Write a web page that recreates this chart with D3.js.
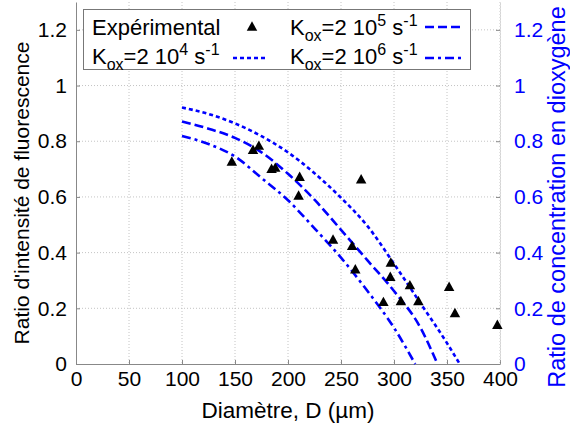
<!DOCTYPE html>
<html>
<head>
<meta charset="utf-8">
<script src="https://cdn.jsdelivr.net/npm/d3@7"></script>
<style>
  html, body { margin: 0; padding: 0; background: #fff; }
  svg { display: block; font-family: "Liberation Sans", Arial, Helvetica, sans-serif; }
</style>
</head>
<body>
<svg id="chart" width="570" height="426"></svg>
<script>
// Measured fluorescence intensity ratio versus spheroid diameter
const expDiameter = [147, 167, 172.5, 184.5, 188, 211, 210, 269, 242.5, 260.5, 263.5, 297, 296.5, 315, 290, 306.5, 323, 352, 357.5, 397.5];
const expRatio    = [0.729, 0.771, 0.786, 0.703, 0.707, 0.674, 0.607, 0.665, 0.449, 0.426, 0.342, 0.366, 0.315, 0.285, 0.225, 0.228, 0.228, 0.279, 0.185, 0.143];

// Modelled oxygen concentration ratio for three consumption constants
const diamK4  = [100, 125, 150, 175, 200, 225, 250, 275, 300, 325, 350, 362];
const ratioK4 = [0.921, 0.898, 0.864, 0.818, 0.760, 0.685, 0.597, 0.495, 0.360, 0.218, 0.075, 0];
const diamK5  = [100, 125, 150, 175, 200, 225, 250, 275, 300, 325, 341];
const ratioK5 = [0.871, 0.845, 0.812, 0.760, 0.683, 0.590, 0.482, 0.372, 0.262, 0.130, 0];
const diamK6  = [100, 125, 150, 175, 200, 225, 250, 275, 300, 320];
const ratioK6 = [0.819, 0.790, 0.745, 0.668, 0.588, 0.487, 0.382, 0.262, 0.130, 0];

const xTicks = [0, 50, 100, 150, 200, 250, 300, 350, 400];
const yTicks = [0, 0.2, 0.4, 0.6, 0.8, 1, 1.2];

const blue = "#0000ff";
const tickFont = 21, legendFont = 22, scriptFont = 16;

const svg = d3.select("#chart");
const plotLeft = 76, plotRight = 500, plotTop = 2, plotBottom = 364;

const x = d3.scaleLinear().domain([0, 400]).range([plotLeft, plotRight]);
const y = d3.scaleLinear().domain([0, 1.3]).range([plotBottom, plotTop]);
const y2 = d3.scaleLinear().domain([0, 1.3]).range([plotBottom, plotTop]);

// dotted grid
const grid = svg.append("g").attr("stroke", "#c4c4c4").attr("stroke-width", 1).attr("stroke-dasharray", "1,2");
grid.selectAll("line.gx").data(xTicks.filter(d => d > 0)).join("line")
  .attr("class", "gx")
  .attr("x1", d => x(d)).attr("x2", d => x(d)).attr("y1", plotTop).attr("y2", plotBottom);
grid.selectAll("line.gy").data(yTicks.filter(d => d > 0)).join("line")
  .attr("class", "gy")
  .attr("x1", plotLeft).attr("x2", plotRight).attr("y1", d => y(d)).attr("y2", d => y(d));

// axes
const fmt = d => d3.format("~g")(d);
const gx = svg.append("g").attr("transform", `translate(0,${plotBottom})`)
  .call(d3.axisBottom(x).tickValues(xTicks).tickFormat(fmt).tickSize(-4).tickPadding(7).tickSizeOuter(0));
const gy = svg.append("g").attr("transform", `translate(${plotLeft},0)`)
  .call(d3.axisLeft(y).tickValues(yTicks).tickFormat(fmt).tickSize(-4).tickPadding(9).tickSizeOuter(0));
const gy2 = svg.append("g").attr("transform", `translate(${plotRight},0)`)
  .call(d3.axisRight(y2).tickValues(yTicks).tickFormat(fmt).tickSize(-4).tickPadding(14).tickSizeOuter(0));

[gx, gy, gy2].forEach(g => {
  g.selectAll("text").attr("font-size", tickFont).attr("font-family", "Liberation Sans, Arial, sans-serif");
  g.selectAll("line").attr("stroke", "#888");
  g.select(".domain").attr("stroke", "#888");
});
gx.selectAll("text").attr("fill", "#000");
gy.selectAll("text").attr("fill", "#000");
gy2.selectAll("text").attr("fill", blue);
gy2.select(".domain").attr("stroke", "#aaa").attr("stroke-dasharray", "1,2");

// model curves
const curves = [
  { d: diamK4, r: ratioK4, dash: "4,3" },
  { d: diamK5, r: ratioK5, dash: "9,4" },
  { d: diamK6, r: ratioK6, dash: "9,4,3,4" }
];
const line = d3.line().x(p => x(p[0])).y(p => y2(p[1])).curve(d3.curveMonotoneX);
svg.append("g").selectAll("path").data(curves).join("path")
  .attr("d", c => line(c.d.map((v, i) => [v, c.r[i]])))
  .attr("fill", "none").attr("stroke", blue).attr("stroke-width", 2.6)
  .attr("stroke-dasharray", c => c.dash);

// upward triangle marker centred on its bounding box
const triangle = {
  draw(ctx, size) {
    const w = Math.sqrt(size), h = w * 0.9;
    ctx.moveTo(0, -h / 2);
    ctx.lineTo(w / 2, h / 2);
    ctx.lineTo(-w / 2, h / 2);
    ctx.closePath();
  }
};
const tri = d3.symbol().type(triangle).size(110);

svg.append("g").selectAll("path").data(expDiameter.map((v, i) => [v, expRatio[i]])).join("path")
  .attr("d", tri)
  .attr("transform", p => `translate(${x(p[0])},${y(p[1])})`)
  .attr("fill", "#000");

// axis titles
svg.append("text")
  .attr("transform", `translate(29,${(plotTop + plotBottom) / 2 + 10}) rotate(-90)`)
  .attr("text-anchor", "middle").attr("font-size", 21).attr("fill", "#000")
  .text("Ratio d'intensité de fluorescence");
svg.append("text")
  .attr("transform", `translate(565,${(plotTop + plotBottom) / 2 + 14}) rotate(-90)`)
  .attr("text-anchor", "middle").attr("font-size", 23.5).attr("fill", blue)
  .text("Ratio de concentration en dioxygène");
svg.append("text")
  .attr("x", (plotLeft + plotRight) / 2).attr("y", 418)
  .attr("text-anchor", "middle").attr("font-size", 22.5).attr("fill", "#000")
  .text("Diamètre, D (µm)");

// legend
const lg = svg.append("g");
lg.append("rect").attr("x", 83.5).attr("y", 9.5).attr("width", 387).attr("height", 60)
  .attr("fill", "#fff").attr("stroke", "#777").attr("stroke-width", 1);

function koxLabel(g, xPos, yPos, exp) {
  const t = g.append("text").attr("x", xPos).attr("y", yPos).attr("font-size", legendFont).attr("fill", "#000");
  t.append("tspan").text("K");
  t.append("tspan").attr("font-size", scriptFont).attr("dy", 6).text("ox");
  t.append("tspan").attr("dy", -6).text("=2 10");
  t.append("tspan").attr("font-size", scriptFont).attr("dy", -9).text(exp);
  t.append("tspan").attr("dy", 9).text(" s");
  t.append("tspan").attr("font-size", scriptFont).attr("dy", -9).text("-1");
}

lg.append("text").attr("x", 92).attr("y", 35).attr("font-size", legendFont).attr("fill", "#000").text("Expérimental");
lg.append("path").attr("d", tri).attr("transform", "translate(252,26)").attr("fill", "#000");

koxLabel(lg, 290, 35, "5");
koxLabel(lg, 92, 64, "4");
koxLabel(lg, 290, 64, "6");

const samples = [
  { x1: 233, x2: 268, yy: 58, dash: curves[0].dash },
  { x1: 425, x2: 463, yy: 27, dash: curves[1].dash },
  { x1: 425, x2: 463, yy: 58, dash: curves[2].dash }
];
lg.selectAll("line.s").data(samples).join("line")
  .attr("x1", s => s.x1).attr("x2", s => s.x2).attr("y1", s => s.yy).attr("y2", s => s.yy)
  .attr("stroke", blue).attr("stroke-width", 2.6).attr("stroke-dasharray", s => s.dash);
</script>
</body>
</html>
